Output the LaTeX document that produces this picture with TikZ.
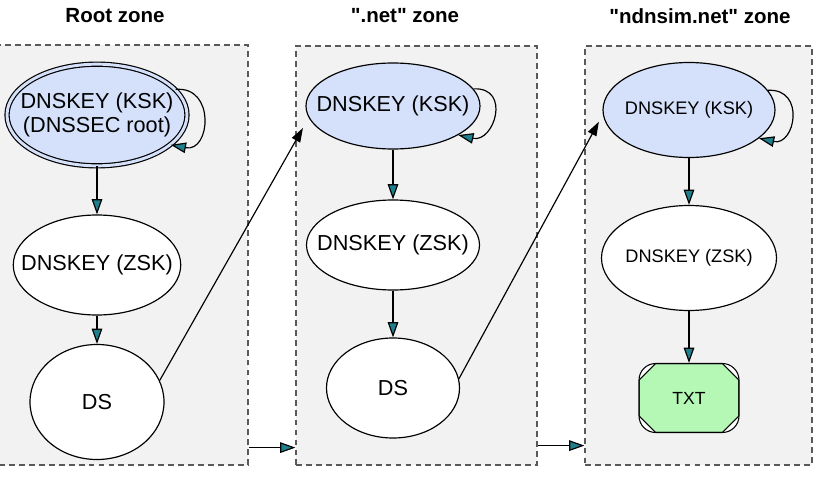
\documentclass[tikz,border=0pt]{standalone}
\usepackage{fontspec}
\setmainfont{Liberation Sans}
\usetikzlibrary{positioning, shapes.geometric, arrows.meta, calc}

\definecolor{zonegray}{HTML}{F2F2F2}
\definecolor{kskblue}{HTML}{D5E1FA}
\definecolor{txtgreen}{HTML}{B5F7B5}
\definecolor{tipteal}{HTML}{1F7F8C}

\tikzset{
  zone/.style={rectangle, draw=black!65, dash pattern=on 5pt off 3.5pt, line width=1pt, fill=zonegray, inner sep=0},
  zonetitle/.style={font=\bfseries\fontsize{17.5}{20}\selectfont},
  keynode/.style={ellipse, draw, line width=1pt, fill=white, inner sep=0, align=center, font=\fontsize{18.5}{20.5}\selectfont},
  longkey/.style={keynode, inner xsep=-0.5cm},
  smallkey/.style={keynode, inner xsep=-0.2cm, font=\fontsize{15.5}{18}\selectfont},
  txtbox/.style={rectangle, draw, line width=0.9pt, rounded corners=0.5cm, fill=white, inner sep=0, font=\fontsize{15}{18}\selectfont,
    path picture={
      \filldraw[fill=txtgreen, line width=0.9pt, sharp corners]
        ([xshift=0.5cm]path picture bounding box.north west) -- ([xshift=-0.5cm]path picture bounding box.north east)
        -- ([yshift=-0.5cm]path picture bounding box.north east) -- ([yshift=0.5cm]path picture bounding box.south east)
        -- ([xshift=-0.5cm]path picture bounding box.south east) -- ([xshift=0.5cm]path picture bounding box.south west)
        -- ([yshift=0.5cm]path picture bounding box.south west) -- ([yshift=-0.5cm]path picture bounding box.north west) -- cycle;
    }},
  chain/.style={line width=1pt, -{Triangle[length=13pt, width=9pt, fill=tipteal]}},
  cross/.style={line width=1pt, -{Triangle[length=12pt, width=8pt, fill=black]}},
}

\begin{document}
\begin{tikzpicture}[x=0.03cm, y=-0.03cm]
  \useasboundingbox (0,0) rectangle (819,482);

  % Zonen
  \node[zone, minimum width=7.47cm, minimum height=12.6cm] (rootzone) at (123.5,255) {};
  \node[zone, minimum width=7.23cm, minimum height=12.57cm] (netzone) at (416.5,255.5) {};
  \node[zone, minimum width=6.81cm, minimum height=12.57cm] (simzone) at (698.5,255.5) {};

  \node[zonetitle] (roottitle) at (115,16) {Root zone};
  \node[zonetitle] (nettitle) at (405,16) {\textquotedbl.net\textquotedbl{} zone};
  \node[zonetitle] (simtitle) at (700,16) {\textquotedbl ndnsim.net\textquotedbl{} zone};

  % Root zone
  \node[longkey, fill=kskblue, double=kskblue, double distance=2.5pt, minimum width=5.4cm, minimum height=3.05cm] (rootksk) at (97,115) {DNSKEY (KSK)\\(DNSSEC root)};
  \node[longkey, minimum width=4.92cm, minimum height=3.0cm] (rootzsk) at (97,265) {DNSKEY (ZSK)};
  \node[keynode, minimum width=4.02cm, minimum height=3.45cm] (rootds) at (97,402) {DS};

  % .net zone
  \node[longkey, fill=kskblue, minimum width=5.22cm, minimum height=2.58cm] (netksk) at (393,106) {DNSKEY (KSK)};
  \node[longkey, minimum width=5.19cm, minimum height=2.7cm] (netzsk) at (393,245) {DNSKEY (ZSK)};
  \node[keynode, minimum width=3.99cm, minimum height=3.0cm] (netds) at (393,388) {DS};

  % ndnsim.net zone
  \node[smallkey, fill=kskblue, minimum width=5.16cm, minimum height=2.85cm] (simksk) at (689,110) {DNSKEY (KSK)};
  \node[smallkey, minimum width=5.25cm, minimum height=3.15cm] (simzsk) at (689,258) {DNSKEY (ZSK)};
  \node[txtbox, minimum width=3.0cm, minimum height=2.07cm] (txt) at (689,398) {TXT};

  % Kanten innerhalb der Zonen
  \draw[chain] (rootksk) -- (rootzsk);
  \draw[chain] (rootzsk) -- (rootds);
  \draw[chain] (netksk) -- (netzsk);
  \draw[chain] (netzsk) -- (netds);
  \draw[chain] (simksk) -- (simzsk);
  \draw[chain] (simzsk) -- (txt);

  % Selbstsignatur
  \draw[chain] (rootksk.18) .. controls +(40,-4) and +(40,8) .. (rootksk.-22);
  \draw[chain] (netksk.12) .. controls +(38,-2) and +(36,8) .. (netksk.-24);
  \draw[chain] (simksk.14) .. controls +(38,-2) and +(36,8) .. (simksk.-22);

  % Vertrauenskette zwischen Zonen
  \draw[cross, shorten >=10pt] (rootds.19) -- (netksk.188);
  \draw[cross, shorten >=7pt] (netds.8) -- (simksk.183);
  \draw[chain] ($(rootzone.south east)+(0,-18)$) -- ($(netzone.south west)+(0,-18)$);
  \draw[chain] ($(netzone.south east)+(0,-20)$) -- ($(simzone.south west)+(0,-20)$);
\end{tikzpicture}
\end{document}
